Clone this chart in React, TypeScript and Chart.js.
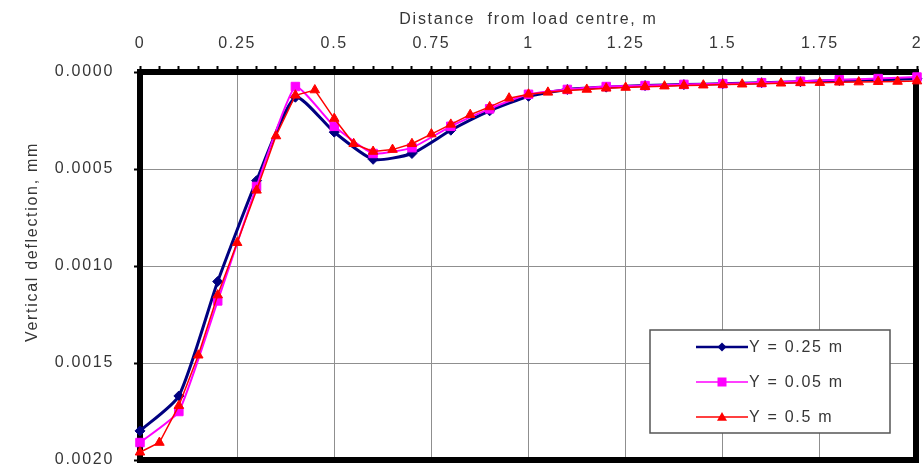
import React, { useEffect, useRef } from 'react';
import { Chart, registerables } from 'chart.js';

Chart.register(...registerables);

// Distance from load centre (m)
const distanceCoarse = [0, 0.1, 0.2, 0.3, 0.4, 0.5, 0.6, 0.7, 0.8, 0.9, 1.0, 1.1, 1.2, 1.3, 1.4, 1.5, 1.6, 1.7, 1.8, 1.9, 2.0];
const distanceFine = [
  0, 0.05, 0.1, 0.15, 0.2, 0.25, 0.3, 0.35, 0.4, 0.45, 0.5, 0.55, 0.6, 0.65, 0.7, 0.75, 0.8, 0.85, 0.9, 0.95, 1.0,
  1.05, 1.1, 1.15, 1.2, 1.25, 1.3, 1.35, 1.4, 1.45, 1.5, 1.55, 1.6, 1.65, 1.7, 1.75, 1.8, 1.85, 1.9, 1.95, 2.0,
];

// Vertical deflection (mm)
const deflectionY025 = [
  0.00185, 0.00167, 0.00108, 0.00056, 0.00013, 0.00031, 0.00045, 0.00042, 0.0003, 0.0002, 0.000125,
  0.00009, 0.000078, 0.00007, 0.000065, 0.00006, 0.000055, 0.00005, 0.000044, 0.00004, 0.000035,
];
const deflectionY005 = [
  0.00191, 0.00175, 0.00118, 0.00059, 0.000075, 0.00028, 0.00042, 0.00039, 0.00028, 0.00019, 0.000115,
  0.00009, 0.000075, 0.00007, 0.000064, 0.00006, 0.000055, 0.000048, 0.00004, 0.000034, 0.000026,
];
const deflectionY05 = [
  0.00196, 0.00191, 0.00172, 0.00146, 0.00115, 0.00088, 0.00061, 0.00033, 0.00012, 0.000093, 0.00024,
  0.00037, 0.00041, 0.0004, 0.00037, 0.00032, 0.00027, 0.00022, 0.00018, 0.000135, 0.000115,
  0.000105, 0.000095, 0.00009, 0.000084, 0.00008, 0.000076, 0.000073, 0.00007, 0.000068, 0.000065,
  0.000063, 0.00006, 0.000058, 0.000056, 0.000055, 0.000053, 0.000052, 0.00005, 0.000049, 0.000047,
];

const seriesLabels = ['Y = 0.25 m', 'Y = 0.05 m', 'Y = 0.5 m'];
const xMajorStep = 0.25;
const xMinorStep = 0.05;
const yTickValues = [0, 0.0005, 0.001, 0.0015, 0.002];
const xTitle = 'Distance  from load centre, m';
const yTitle = 'Vertical deflection, mm';

const FONT = "'Liberation Sans', Arial, sans-serif";
const TEXT = '#363636';
const SPACING = '1.7px';

const isMajor = (v: number) => Math.abs(v / xMajorStep - Math.round(v / xMajorStep)) < 1e-6;

const setSpacing = (chart: any) => {
  try {
    (chart.ctx as any).letterSpacing = SPACING;
  } catch (e) {}
};

const spacingPlugin = {
  id: 'spacing',
  beforeUpdate: setSpacing,
  beforeDraw: setSpacing,
};

const framePlugin = {
  id: 'frame',
  beforeDatasetsDraw(chart: any) {
    const { ctx, chartArea } = chart;
    ctx.save();
    ctx.strokeStyle = '#000';
    ctx.lineWidth = 6;
    ctx.strokeRect(chartArea.left, chartArea.top, chartArea.right - chartArea.left - 1, chartArea.bottom - chartArea.top);
    ctx.restore();
  },
};

const yTitlePlugin = {
  id: 'yTitle',
  afterDraw(chart: any) {
    const { ctx, chartArea } = chart;
    ctx.save();
    (ctx as any).letterSpacing = SPACING;
    ctx.fillStyle = TEXT;
    ctx.font = `16px ${FONT}`;
    ctx.textAlign = 'center';
    ctx.textBaseline = 'middle';
    ctx.translate(33, (chartArea.top + chartArea.bottom) / 2 - 24);
    ctx.rotate(-Math.PI / 2);
    ctx.fillText(yTitle, 0, 0);
    ctx.restore();
  },
};

const drawMarker = (ctx: CanvasRenderingContext2D, style: string, cx: number, cy: number, r: number) => {
  ctx.beginPath();
  if (style === 'rectRot') {
    ctx.moveTo(cx, cy - r);
    ctx.lineTo(cx + r, cy);
    ctx.lineTo(cx, cy + r);
    ctx.lineTo(cx - r, cy);
  } else if (style === 'rect') {
    ctx.rect(cx - r, cy - r, 2 * r, 2 * r);
  } else {
    ctx.moveTo(cx, cy - r);
    ctx.lineTo(cx + r, cy + r * 0.75);
    ctx.lineTo(cx - r, cy + r * 0.75);
  }
  ctx.closePath();
  ctx.fill();
};

const legendPlugin = {
  id: 'boxLegend',
  afterDatasetsDraw(chart: any) {
    const { ctx, chartArea } = chart;
    const w = 240;
    const h = 103;
    const left = chartArea.right - 27 - w;
    const top = chartArea.bottom - 27 - h;
    ctx.save();
    ctx.fillStyle = '#fff';
    ctx.fillRect(left, top, w, h);
    ctx.strokeStyle = '#555';
    ctx.lineWidth = 1.5;
    ctx.strokeRect(left, top, w, h);
    const markerSizes = [4.5, 4.5, 5];
    chart.data.datasets.forEach((ds: any, i: number) => {
      const cy = top + 17 + i * 35;
      ctx.strokeStyle = ds.borderColor;
      ctx.lineWidth = i === 0 ? 2.5 : 1.5;
      ctx.beginPath();
      ctx.moveTo(left + 46, cy);
      ctx.lineTo(left + 98, cy);
      ctx.stroke();
      ctx.fillStyle = ds.backgroundColor;
      drawMarker(ctx, ds.pointStyle, left + 72, cy, markerSizes[i]);
      (ctx as any).letterSpacing = SPACING;
      ctx.fillStyle = TEXT;
      ctx.font = `16px ${FONT}`;
      ctx.textAlign = 'left';
      ctx.textBaseline = 'middle';
      ctx.fillText(ds.label, left + 99, cy + 1);
    });
    ctx.restore();
  },
};

export default function App() {
  const canvasRef = useRef<HTMLCanvasElement | null>(null);

  useEffect(() => {
    const canvas = canvasRef.current;
    if (!canvas) return;
    const toPoints = (xs: number[], ys: number[]) => xs.map((x, i) => ({ x, y: ys[i] }));

    const chart = new Chart(canvas, {
      type: 'line',
      data: {
        datasets: [
          {
            label: seriesLabels[0],
            data: toPoints(distanceCoarse, deflectionY025),
            borderColor: '#000080',
            backgroundColor: '#000080',
            borderWidth: 3,
            pointStyle: 'rectRot',
            pointRadius: 5,
            pointBorderWidth: 1,
            tension: 0.2,
            order: 3,
            clip: false,
          },
          {
            label: seriesLabels[1],
            data: toPoints(distanceCoarse, deflectionY005),
            borderColor: '#FF00FF',
            backgroundColor: '#FF00FF',
            borderWidth: 2,
            pointStyle: 'rect',
            pointRadius: 6,
            pointBorderWidth: 1,
            tension: 0.15,
            order: 2,
            clip: false,
          },
          {
            label: seriesLabels[2],
            data: toPoints(distanceFine, deflectionY05),
            borderColor: '#FF0000',
            backgroundColor: '#FF0000',
            borderWidth: 1.5,
            pointStyle: 'triangle',
            pointRadius: 5.5,
            pointBorderWidth: 1,
            tension: 0,
            order: 1,
            clip: false,
          },
        ] as any,
      },
      options: {
        animation: false,
        responsive: false,
        events: [],
        layout: { padding: { left: 0, top: 0, right: 2, bottom: 8 } },
        plugins: {
          legend: { display: false },
          tooltip: { enabled: false },
        },
        scales: {
          x: {
            type: 'linear',
            position: 'top',
            min: 0,
            max: 2,
            border: { display: false },
            grid: {
              color: (c: any) => (c.tick && isMajor(c.tick.value) ? '#8f8f8f' : 'rgba(0,0,0,0)'),
              lineWidth: 1,
              tickColor: '#000',
              tickWidth: 2,
              tickLength: 6,
              drawTicks: true,
            },
            ticks: {
              stepSize: xMinorStep,
              autoSkip: false,
              maxRotation: 0,
              minRotation: 0,
              padding: 13,
              color: TEXT,
              font: { family: FONT, size: 16 },
              callback: (v: any) => (isMajor(Number(v)) ? String(Math.round(Number(v) * 100) / 100) : ''),
            },
            title: {
              display: true,
              text: xTitle,
              color: TEXT,
              font: { family: FONT, size: 16 },
              padding: { top: 10, bottom: 0 },
            },
            afterFit: (s: any) => {
              s.height = 72;
              s.paddingLeft = 0;
              s.paddingRight = 0;
            },
          },
          y: {
            type: 'linear',
            reverse: true,
            min: 0,
            max: 0.002,
            border: { display: false },
            grid: {
              color: '#8f8f8f',
              lineWidth: 1,
              tickColor: '#000',
              tickWidth: 2,
              tickLength: 6,
            },
            afterBuildTicks: (s: any) => {
              s.ticks = yTickValues.map((value) => ({ value }));
            },
            ticks: {
              padding: 20,
              color: TEXT,
              font: { family: FONT, size: 16 },
              callback: (v: any) => Number(v).toFixed(4),
            },
            afterFit: (s: any) => {
              s.width = 140;
              s.paddingTop = 0;
              s.paddingBottom = 0;
            },
          },
        },
      } as any,
      plugins: [spacingPlugin, framePlugin, legendPlugin, yTitlePlugin],
    });

    return () => chart.destroy();
  }, []);

  return (
    <div style={{ position: 'absolute', left: 0, top: 0, width: 924, height: 468, background: '#fff' }}>
      <canvas ref={canvasRef} width={924} height={468} style={{ display: 'block', width: 924, height: 468 }} />
    </div>
  );
}
